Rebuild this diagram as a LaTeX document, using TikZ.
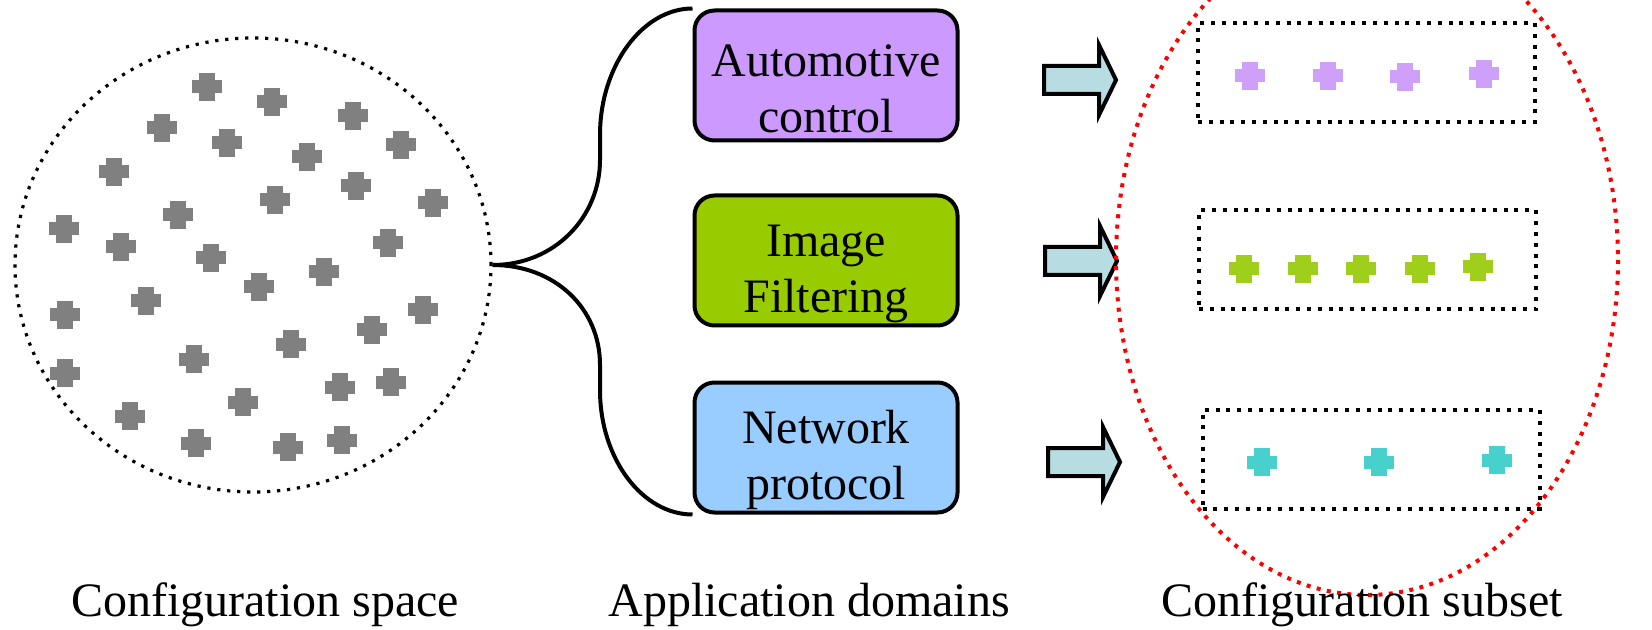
\documentclass[tikz,border=0pt]{standalone}
\usepackage{fontspec}
\setmainfont{Liberation Serif}
\usetikzlibrary{shapes.geometric}

\definecolor{autoc}{HTML}{CC99FF}
\definecolor{imgc}{HTML}{99CC00}
\definecolor{netc}{HTML}{99CCFF}
\definecolor{ptgray}{HTML}{808080}
\definecolor{autopt}{HTML}{CFA0FA}
\definecolor{imgpt}{HTML}{9FCF1A}
\definecolor{netpt}{HTML}{48D1CC}
\definecolor{arrowc}{HTML}{B7DDE3}

\newcommand\topgap{\rule{0pt}{29pt}}

\tikzset{
  pt/.pic={\fill (-15,-6.5) rectangle (15,6.5); \fill (-8,-14) rectangle (8,14);},
  blockarrow/.pic={\draw[line width=2pt,fill=arrowc,miter limit=10] (-36,-14) -- (19,-14) -- (19,-35) -- (36,0) -- (19,35) -- (19,14) -- (-36,14) -- cycle;}
}

\begin{document}
\begin{tikzpicture}[x=0.5pt,y=-0.5pt,
  font=\fontsize{24}{28}\selectfont,
  appbox/.style={draw,line width=2pt,rounded corners=10pt,minimum width=131.5pt,minimum height=65pt,inner sep=0pt,align=center},
  subbox/.style={draw,line width=2pt,dash pattern=on 2pt off 3.4pt,minimum width=168.5pt,minimum height=49.5pt,inner sep=0pt},
  lbl/.style={anchor=base}]
\useasboundingbox (0,0) rectangle (1652,630);

\node[draw,ellipse,line width=1.6pt,dash pattern=on 1.6pt off 3.4pt,minimum width=238pt,minimum height=227pt,inner sep=0pt] (space) at (253,265) {};
\foreach \x/\y in {207/87,272/102,353/116,162/128,227/143,401/145,307/157,114/172,356/186,275/200,433/203,178/215,64/229,121/247,388/243,211/258,324/272,259/287,146/301,65/315,423/310,372/330,291/344,194/359,65/373,391/382,340/387,243/402,130/416,196/443,288/447,342/440}
  \pic[color=ptgray] at (\x,\y) {pt};

\node[appbox,fill=autoc] (auto) at (826,75.5) {\topgap Automotive\\control};
\node[appbox,fill=imgc] (img) at (826,260.5) {\topgap Image\\Filtering};
\node[appbox,fill=netc] (net) at (826,447.5) {\topgap Network\\protocol};

\draw[line width=2pt] (space.east) .. controls +(62,0) and +(0,57) .. (600,160) -- (600,135) .. controls +(0,-69) and +(-50,0) .. (auto.north west);
\draw[line width=2pt] (space.east) .. controls +(62,0) and +(0,-57) .. (600,365) -- (600,390) .. controls +(0,69) and +(-50,0) .. (net.south west);

\pic at (1080,80) {blockarrow};
\pic at (1081,261) {blockarrow};
\pic at (1084,462) {blockarrow};

\node[subbox] (sub1) at (1366.5,72.5) {};
\node[subbox] (sub2) at (1367.5,260) {};
\node[subbox] (sub3) at (1371,459.5) {};
\foreach \x/\y in {1250/76,1328/76,1405/77,1484/74}
  \pic[color=autopt] at (\x,\y) {pt};
\foreach \x/\y in {1244/269,1303/269,1361/269,1420/269,1478/267}
  \pic[color=imgpt] at (\x,\y) {pt};
\foreach \x/\y in {1262/462,1379/462,1497/460}
  \pic[color=netpt] at (\x,\y) {pt};

\begin{scope}
\clip (0,0) rectangle (1652,630);
\draw[red,line width=2pt,dash pattern=on 2pt off 3.2pt] (1367,260) ellipse [x radius=251,y radius=335];
\end{scope}

\node[lbl] (lspace) at (265,616) {Configuration space};
\node[lbl] (ldom) at (809,616) {Application domains};
\node[lbl] (lsub) at (1362,616) {Configuration subset};
\end{tikzpicture}
\end{document}
